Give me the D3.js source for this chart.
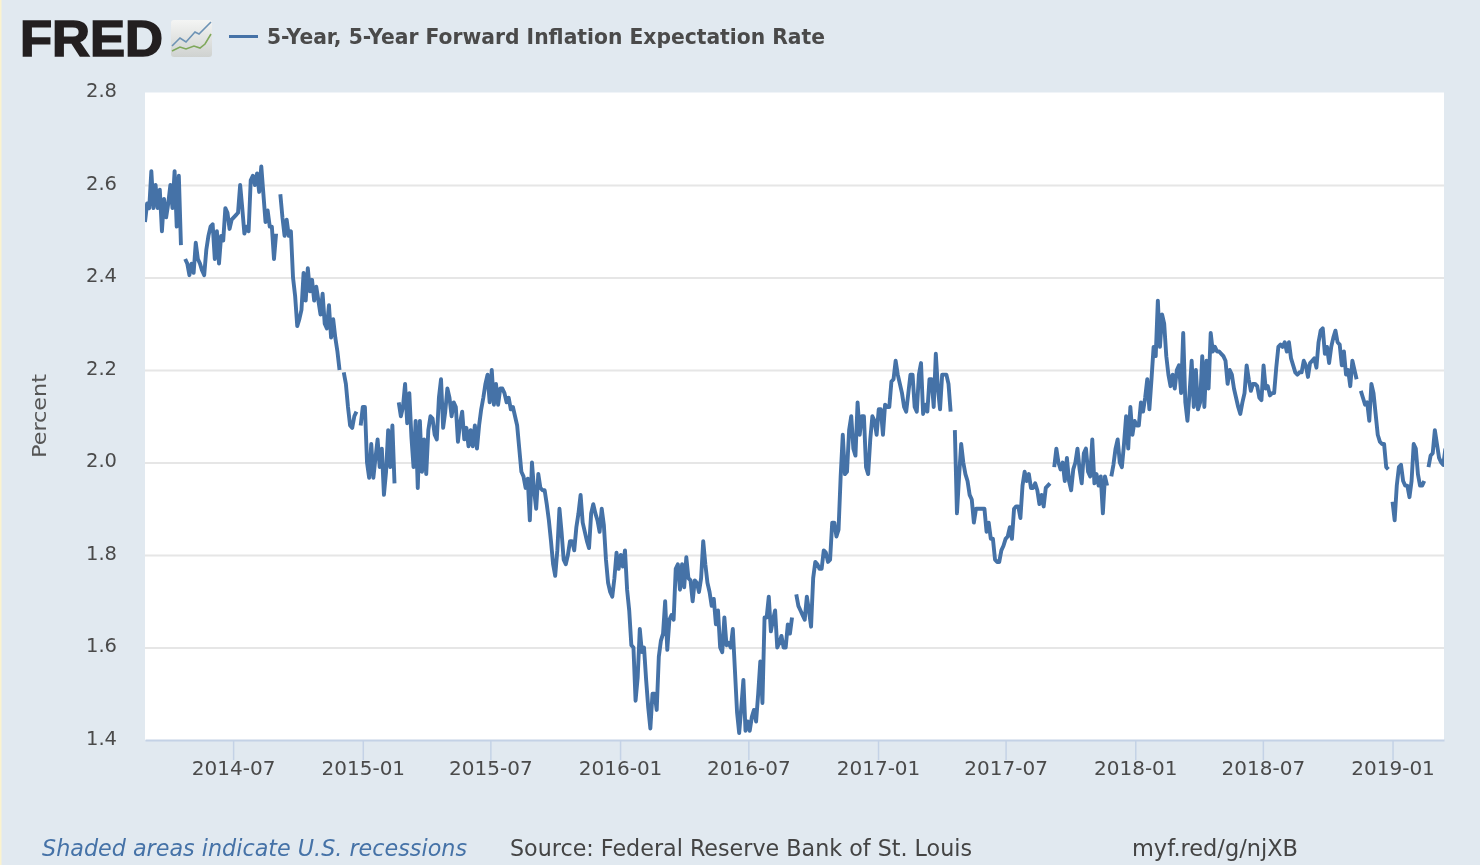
<!DOCTYPE html>
<html>
<head>
<meta charset="utf-8">
<style>
    html, body { margin: 0; padding: 0; background: #e1e9f0; overflow: hidden; }
    svg { display: block; filter: blur(0.7px); }
    text { font-family: "DejaVu Sans", sans-serif; fill: #444; }
</style>
<script src="https://d3js.org/d3.v7.min.js"></script>
</head>
<body>
<div id="viz"></div>
<script>
const seriesName = "5-Year, 5-Year Forward Inflation Expectation Rate";
const yAxisTitle = "Percent";
const yTicks = [1.4, 1.6, 1.8, 2.0, 2.2, 2.4, 2.6, 2.8];
const xTicks = ["2014-07", "2015-01", "2015-07", "2016-01", "2016-07", "2017-01", "2017-07", "2018-01", "2018-07", "2019-01"];
const firstDay = "2014-02-26";
const lastDay = "2019-03-15";
const stepDays = 3;   // one reading every 3 calendar days, null where the line breaks

const rates = [
    2.52,2.56,2.55,2.63,2.55,2.60,2.55,2.59,2.50,2.57,
    2.53,2.56,2.60,2.55,2.63,2.51,2.62,2.47,null,2.44,
    2.43,2.405,2.43,2.41,2.475,2.44,2.43,2.415,2.405,2.46,
    2.49,2.51,2.515,2.44,2.50,2.43,2.49,2.48,2.55,2.54,
    2.505,2.525,2.53,2.535,2.54,2.60,2.55,2.495,2.51,2.50,
    2.61,2.62,2.60,2.625,2.585,2.64,2.58,2.52,2.545,2.51,
    2.51,2.44,2.495,null,2.58,2.53,2.49,2.525,2.49,2.50,
    2.40,2.36,2.295,2.31,2.33,2.41,2.35,2.42,2.37,2.395,
    2.35,2.38,2.35,2.32,2.365,2.30,2.29,2.34,2.27,2.31,
    2.27,2.24,2.20,null,2.195,2.17,2.12,2.08,2.075,2.10,
    2.11,null,2.08,2.12,2.12,2.00,1.967,2.04,1.967,2.01,
    2.05,1.99,2.03,1.93,1.98,2.07,1.99,2.08,1.955,null,
    2.13,2.10,2.12,2.17,2.085,2.15,2.055,1.99,2.09,1.945,
    2.09,1.98,2.05,1.975,2.07,2.10,2.095,2.06,2.05,2.14,
    2.18,2.075,2.11,2.16,2.14,2.10,2.13,2.12,2.045,2.085,
    2.11,2.05,2.075,2.035,2.07,2.035,2.08,2.03,2.08,2.115,
    2.14,2.17,2.19,2.13,2.20,2.125,2.17,2.125,2.16,2.16,
    2.15,2.13,2.14,2.115,2.12,2.10,2.08,2.03,1.98,1.97,
    1.945,1.965,1.875,2.00,1.94,1.90,1.975,1.945,1.94,1.94,
    1.91,1.875,1.83,1.78,1.755,1.81,1.90,1.85,1.79,1.78,
    1.80,1.83,1.83,1.81,1.86,1.89,1.93,1.87,1.85,1.83,
    1.815,1.89,1.91,1.89,1.875,1.85,1.90,1.865,1.79,1.74,
    1.72,1.71,1.75,1.805,1.77,1.80,1.775,1.81,1.725,1.68,
    1.605,1.60,1.485,1.535,1.64,1.59,1.60,1.53,1.47,1.425,
    1.50,1.50,1.465,1.58,1.615,1.63,1.70,1.595,1.66,1.67,
    1.66,1.77,1.78,1.725,1.78,1.73,1.795,1.75,1.745,1.70,
    1.745,1.74,1.72,1.75,1.83,1.78,1.74,1.72,1.69,1.705,
    1.65,1.68,1.60,1.59,1.665,1.605,1.61,1.60,1.64,1.55,
    1.46,1.415,1.47,1.53,1.42,1.44,1.42,1.45,1.465,1.44,
    1.50,1.57,1.48,1.665,1.665,1.71,1.635,1.66,1.68,1.60,
    1.61,1.625,1.60,1.60,1.65,1.63,1.665,null,1.715,1.69,
    1.68,1.67,1.66,1.71,1.68,1.645,1.75,1.785,1.78,1.77,
    1.77,1.81,1.805,1.785,1.79,1.87,1.87,1.84,1.855,1.97,
    2.06,1.975,1.98,2.07,2.10,2.03,2.015,2.13,2.06,2.10,
    2.10,1.99,1.975,2.05,2.10,2.09,2.06,2.115,2.115,2.06,
    2.125,2.12,2.12,2.175,2.18,2.22,2.19,2.17,2.15,2.12,
    2.11,2.15,2.19,2.19,2.12,2.11,2.19,2.215,2.105,2.125,
    2.11,2.18,2.18,2.12,2.235,2.16,2.115,2.19,2.19,2.19,
    2.17,2.11,null,2.07,1.89,1.97,2.04,2.00,1.975,1.96,
    1.93,1.92,1.87,1.90,1.90,1.90,1.90,1.90,1.85,1.87,
    1.835,1.835,1.79,1.785,1.785,1.81,1.82,1.835,1.84,1.86,
    1.835,1.90,1.905,1.905,1.88,1.95,1.98,1.96,1.975,1.945,
    1.945,1.955,1.94,1.91,1.93,1.905,1.945,1.95,1.955,null,
    1.99,2.03,2.00,1.985,2.00,1.96,2.01,1.96,1.94,1.985,
    2.00,2.03,1.985,1.955,2.02,2.03,1.98,1.97,2.05,1.955,
    1.975,1.95,1.97,1.89,1.97,1.95,null,1.97,1.995,2.03,
    2.05,2.00,1.99,2.04,2.10,2.03,2.12,2.06,2.09,2.08,
    2.08,2.13,2.11,2.14,2.18,2.115,2.18,2.25,2.23,2.35,
    2.25,2.32,2.30,2.23,2.19,2.165,2.19,2.16,2.20,2.21,
    2.15,2.28,2.13,2.09,2.15,2.22,2.12,2.20,2.115,2.13,
    2.23,2.12,2.22,2.16,2.28,2.24,2.25,2.24,2.24,2.235,
    2.23,2.22,2.17,2.20,2.19,2.16,2.14,2.12,2.105,2.13,
    2.15,2.21,2.18,2.155,2.17,2.17,2.165,2.14,2.135,2.21,
    2.16,2.165,2.145,2.15,2.15,2.205,2.25,2.255,2.25,2.26,
    2.24,2.26,2.225,2.21,2.195,2.19,2.195,2.195,2.22,2.21,
    2.185,2.215,2.22,2.225,2.205,2.26,2.285,2.29,2.235,2.25,
    2.215,2.25,2.27,2.285,2.26,2.255,2.21,2.24,2.19,2.20,
    2.165,2.22,2.20,2.18,null,2.155,2.14,2.125,2.13,2.09,
    2.17,2.15,2.105,2.06,2.045,2.04,2.04,1.99,1.985,null,
    1.915,1.875,1.95,1.99,1.995,1.96,1.95,1.95,1.925,1.96,
    2.04,2.03,1.975,1.95,1.95,1.96,null,1.99,2.015,2.02,
    2.07,2.04,2.01,2.00,1.995,2.03
];

const width = 1480, height = 865;
const margin = { top: 92.5, right: 36, bottom: 125, left: 145 };
const plot_width = width - margin.left - margin.right,
      plot_height = height - margin.top - margin.bottom;

const parseDay = d3.timeParse("%Y-%m-%d"),
      parseMonth = d3.timeParse("%Y-%m");

const x = d3.scaleTime().domain([parseDay(firstDay), parseDay(lastDay)]).range([0, plot_width]);
const y = d3.scaleLinear().domain([1.4, 2.8]).range([plot_height, 0]);

const points = rates.map((v, i) => ({ date: d3.timeDay.offset(parseDay(firstDay), i * stepDays), value: v }));

const svg = d3.select("#viz").append("svg").attr("width", width).attr("height", height);

svg.append("rect").attr("width", width).attr("height", height).attr("fill", "#e1e9f0");
svg.append("rect").attr("width", 1.5).attr("height", height).attr("fill", "#fbf3cf");   // pale edge of the screenshot

// FRED logo
const logo = svg.append("g");
logo.append("text").text("FRED")
    .attr("x", 20).attr("y", 56)
    .attr("textLength", 143).attr("lengthAdjust", "spacingAndGlyphs")
    .style("font-family", "'Liberation Sans', sans-serif")
    .style("font-weight", 700).style("font-size", "50px")
    .style("fill", "#231f20").style("stroke", "#231f20").style("stroke-width", 1.6);

const grad = svg.append("defs").append("linearGradient").attr("id", "icon-bg").attr("x2", 0).attr("y2", 1);
grad.append("stop").attr("offset", 0).attr("stop-color", "#f4f5f4");
grad.append("stop").attr("offset", 1).attr("stop-color", "#cfd2d0");
const icon = svg.append("g").attr("transform", "translate(171, 20)");
icon.append("rect").attr("width", 41).attr("height", 37).attr("rx", 3).attr("fill", "url(#icon-bg)");
icon.append("path").attr("d", "M1 26L9 18L15 22L24 12L28 14L40 2")
    .attr("fill", "none").attr("stroke", "#6d93b5").attr("stroke-width", 1.6);
icon.append("path").attr("d", "M1 31L9 27L15 29L23 26L29 28L34 24L40 14")
    .attr("fill", "none").attr("stroke", "#7fa85a").attr("stroke-width", 1.6);

// legend
svg.append("line").attr("x1", 229).attr("x2", 258).attr("y1", 36.5).attr("y2", 36.5)
    .attr("stroke", "#4572a7").attr("stroke-width", 3);
svg.append("text").text(seriesName)
    .attr("x", 267).attr("y", 44)
    .attr("textLength", 558).attr("lengthAdjust", "spacingAndGlyphs")
    .style("font-weight", 700).style("font-size", "21px").style("fill", "#4a4a4a");

const g = svg.append("g").attr("transform", `translate(${margin.left}, ${margin.top})`);

g.append("rect").attr("width", plot_width).attr("height", plot_height).attr("fill", "#fff");

// y gridlines and labels
const yAxis = g.append("g").call(d3.axisLeft(y).tickValues(yTicks).tickFormat(d3.format(".1f")).tickSize(-plot_width).tickPadding(28));
yAxis.select(".domain").remove();
yAxis.selectAll(".tick line")
    .attr("stroke", d => (d === 1.4 || d === 2.8) ? "none" : "#e6e6e6")
    .attr("stroke-width", 2);
yAxis.selectAll(".tick text")
    .attr("dy", "0.32em").attr("y", -2)
    .style("font-size", "19.5px").style("font-family", "'DejaVu Sans', sans-serif").style("fill", "#4a4a4a");

// x axis
const xAxis = g.append("g").attr("transform", `translate(0, ${plot_height})`)
    .call(d3.axisBottom(x).tickValues(xTicks.map(parseMonth)).tickFormat(d3.timeFormat("%Y-%m"))
        .tickSizeInner(20).tickSizeOuter(0).tickPadding(1));
xAxis.select(".domain").attr("stroke", "#c4d2e6").attr("stroke-width", 2);
xAxis.selectAll(".tick line").attr("stroke", "#c4d2e6").attr("stroke-width", 1.5);
xAxis.selectAll(".tick text")
    .style("font-size", "20px").style("font-family", "'DejaVu Sans', sans-serif").style("fill", "#4a4a4a");

// series
g.append("clipPath").attr("id", "plot-clip").append("rect")
    .attr("width", plot_width).attr("height", plot_height + 2);
const line = d3.line().defined(d => d.value !== null).x(d => x(d.date)).y(d => y(d.value));
g.append("path").datum(points)
    .attr("clip-path", "url(#plot-clip)")
    .attr("d", line)
    .attr("fill", "none")
    .attr("stroke", "#4572a7")
    .attr("stroke-width", 3.9)
    .attr("stroke-linejoin", "round");

// y title
svg.append("text").text(yAxisTitle)
    .attr("transform", "translate(46, 416) rotate(-90)")
    .attr("text-anchor", "middle")
    .attr("textLength", 84).attr("lengthAdjust", "spacingAndGlyphs")
    .style("font-size", "20px").style("fill", "#555");

// footer
svg.append("text").text("Shaded areas indicate U.S. recessions")
    .attr("x", 42).attr("y", 856)
    .attr("textLength", 425).attr("lengthAdjust", "spacingAndGlyphs")
    .style("font-style", "italic").style("font-size", "23px").style("fill", "#4572a7");
svg.append("text").text("Source: Federal Reserve Bank of St. Louis")
    .attr("x", 510).attr("y", 856)
    .attr("textLength", 462).attr("lengthAdjust", "spacingAndGlyphs")
    .style("font-size", "23px");
svg.append("text").text("myf.red/g/njXB")
    .attr("x", 1132).attr("y", 856)
    .attr("textLength", 166).attr("lengthAdjust", "spacingAndGlyphs")
    .style("font-size", "23px");
</script>
</body>
</html>
